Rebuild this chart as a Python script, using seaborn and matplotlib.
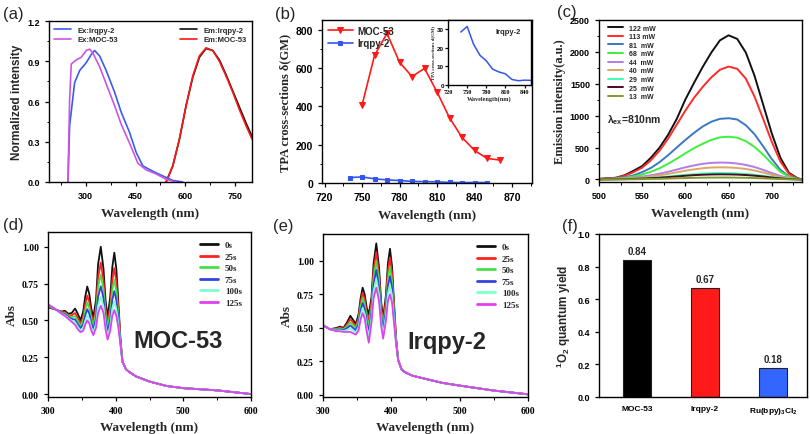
import numpy as np
import pandas as pd
import seaborn as sns
import matplotlib.pyplot as plt
from matplotlib.ticker import MultipleLocator

SANS = "Liberation Sans"
SERIF = "Liberation Serif"

# ---- (a) normalized excitation / emission spectra
ex_wl_irqpy = [247, 252, 267, 282, 302, 317, 327, 342, 362, 387, 407, 432, 452, 472, 502, 532, 562, 592]
ex_irqpy = [0.0, 0.42, 0.74, 0.83, 0.89, 0.95, 0.98, 0.94, 0.83, 0.67, 0.52, 0.37, 0.22, 0.12, 0.08, 0.045, 0.012, 0.0]
ex_wl_moc = [247, 252, 257, 272, 287, 302, 312, 322, 342, 362, 387, 407, 432, 457, 482, 512, 542, 572]
ex_moc = [0.0, 0.62, 0.88, 0.91, 0.93, 0.98, 0.99, 0.96, 0.86, 0.73, 0.57, 0.43, 0.29, 0.14, 0.09, 0.06, 0.02, 0.0]
em_wl = [542, 562, 582, 602, 622, 642, 662, 682, 702, 722, 742, 762, 782, 800]
em_irqpy = [0.0, 0.12, 0.32, 0.57, 0.78, 0.93, 0.995, 0.98, 0.91, 0.80, 0.68, 0.56, 0.44, 0.34]
em_moc = [0.0, 0.12, 0.32, 0.57, 0.79, 0.94, 1.0, 0.98, 0.90, 0.79, 0.67, 0.54, 0.42, 0.32]

# ---- (b) two-photon absorption cross sections
tpa_wl_moc = [750, 760, 770, 780, 790, 800, 810, 820, 830, 840, 850, 860]
tpa_moc = [405, 665, 780, 630, 555, 598, 475, 340, 238, 170, 128, 120]
tpa_wl_irqpy = [740, 750, 760, 770, 780, 790, 800, 810, 820, 830, 840, 850]
tpa_irqpy = [28.5, 31.5, 22, 16, 13, 8.5, 7, 6, 3, 2.3, 2.6, 2.5]

# ---- (c) emission vs. laser power
pow_wl = [500, 510, 520, 530, 540, 550, 560, 570, 580, 590, 600, 610, 620,
          630, 640, 650, 660, 670, 680, 690, 700, 710, 720, 730, 735]
pow_labels = ["122 mW", "113 mW", "81  mW", "68  mW", "44  mW", "40  mW", "29  mW", "25  mW", "13  mW"]
pow_122 = [9, 18, 27, 68, 136, 210, 339, 497, 700, 949, 1254, 1514, 1763, 1989, 2181, 2260, 2204, 1989, 1627, 1175, 723, 339, 102, 18, 0]
pow_113 = [8, 15, 27, 60, 115, 185, 300, 450, 640, 860, 1080, 1280, 1450, 1600, 1720, 1770, 1735, 1580, 1300, 950, 590, 280, 85, 15, 0]
pow_81 = [5, 10, 18, 35, 65, 115, 180, 270, 380, 500, 620, 730, 830, 905, 950, 960, 940, 850, 710, 520, 320, 150, 45, 8, 0]
pow_68 = [4, 8, 14, 27, 48, 78, 120, 175, 245, 325, 410, 490, 560, 620, 660, 670, 655, 600, 510, 390, 250, 120, 40, 8, 0]
pow_44 = [3, 6, 10, 18, 30, 45, 65, 90, 120, 155, 190, 220, 245, 260, 265, 262, 250, 228, 195, 150, 100, 55, 20, 5, 0]
pow_40 = [2, 4, 7, 13, 22, 33, 47, 65, 87, 112, 137, 158, 176, 187, 190, 188, 180, 164, 140, 108, 72, 40, 15, 4, 0]
pow_29 = [1, 2, 4, 7, 11, 17, 25, 34, 46, 59, 72, 83, 92, 98, 100, 99, 95, 86, 74, 57, 38, 21, 8, 2, 0]
pow_25 = [1, 2, 3, 5, 9, 14, 20, 27, 37, 47, 58, 67, 74, 78, 80, 79, 76, 69, 59, 46, 30, 17, 6, 2, 0]
pow_13 = [0, 1, 1, 2, 3, 5, 8, 10, 14, 18, 22, 25, 28, 29, 30, 30, 28, 26, 22, 17, 11, 6, 2, 1, 0]
pow_colors = ["#111111", "#ff2a2a", "#3a78c4", "#3cf03c", "#b57be6", "#d9a866", "#3cffb0", "#4a0a22", "#7f9a2a"]

# ---- (d)/(e) absorption under irradiation
abs_wl = [300, 310, 320, 325, 330, 335, 340, 344, 348, 352, 355, 358, 361, 364, 367, 371, 374,
          378, 382, 385, 388, 392, 395, 398, 401, 404, 407, 410,
          415, 420, 430, 450, 475, 500, 550, 600]
time_labels = ["0s", "25s", "50s", "75s", "100s", "125s"]
time_colors = ["#111111", "#ff2020", "#44e044", "#2f45e0", "#7fffd0", "#e040f0"]
moc_tail = [0.17, 0.15, 0.12, 0.085, 0.055, 0.04, 0.025, 0.0]
moc_0s = [0.59, 0.575, 0.56, 0.565, 0.545, 0.55, 0.58, 0.545, 0.50, 0.56, 0.66, 0.73, 0.68, 0.58, 0.52, 0.64, 0.88,
          1.00, 0.85, 0.64, 0.52, 0.66, 0.86, 0.96, 0.85, 0.62, 0.38, 0.22]
moc_25s = [0.595, 0.576, 0.556, 0.556, 0.536, 0.534, 0.55, 0.517, 0.478, 0.525, 0.609, 0.668, 0.626, 0.54, 0.488, 0.589, 0.791,
           0.892, 0.769, 0.586, 0.48, 0.598, 0.771, 0.855, 0.764, 0.574, 0.369, 0.22]
moc_50s = [0.60, 0.577, 0.553, 0.549, 0.529, 0.522, 0.528, 0.496, 0.462, 0.499, 0.571, 0.622, 0.586, 0.51, 0.464, 0.551, 0.725,
           0.812, 0.709, 0.546, 0.45, 0.552, 0.705, 0.777, 0.70, 0.54, 0.361, 0.22]
moc_75s = [0.603, 0.578, 0.55, 0.542, 0.522, 0.51, 0.506, 0.475, 0.446, 0.473, 0.533, 0.576, 0.546, 0.48, 0.44, 0.513, 0.659,
           0.732, 0.649, 0.506, 0.42, 0.506, 0.639, 0.699, 0.636, 0.506, 0.353, 0.22]
moc_100s = [0.607, 0.579, 0.547, 0.535, 0.515, 0.499, 0.487, 0.456, 0.432, 0.45, 0.498, 0.534, 0.51, 0.452, 0.418, 0.478, 0.60,
            0.66, 0.595, 0.47, 0.392, 0.464, 0.58, 0.628, 0.578, 0.476, 0.346, 0.22]
moc_125s = [0.61, 0.58, 0.545, 0.53, 0.51, 0.49, 0.47, 0.44, 0.42, 0.43, 0.47, 0.50, 0.48, 0.43, 0.40, 0.45, 0.55,
            0.60, 0.55, 0.44, 0.37, 0.43, 0.53, 0.57, 0.53, 0.45, 0.34, 0.22]
irq_tail = [0.19, 0.17, 0.145, 0.12, 0.09, 0.07, 0.033, 0.005]
irq_0s = [0.52, 0.49, 0.50, 0.51, 0.50, 0.54, 0.59, 0.56, 0.53, 0.60, 0.72, 0.80, 0.75, 0.65, 0.60, 0.73, 0.98,
          1.13, 0.95, 0.70, 0.57, 0.74, 0.98, 1.09, 0.96, 0.68, 0.42, 0.26]
irq_25s = [0.52, 0.49, 0.495, 0.503, 0.494, 0.526, 0.566, 0.54, 0.514, 0.576, 0.688, 0.762, 0.714, 0.614, 0.558, 0.692, 0.928,
           1.064, 0.90, 0.664, 0.54, 0.702, 0.924, 1.022, 0.906, 0.65, 0.412, 0.26]
irq_50s = [0.52, 0.49, 0.49, 0.496, 0.488, 0.512, 0.542, 0.52, 0.498, 0.552, 0.656, 0.724, 0.678, 0.578, 0.516, 0.654, 0.876,
           0.998, 0.85, 0.628, 0.51, 0.664, 0.868, 0.954, 0.852, 0.62, 0.404, 0.26]
irq_75s = [0.52, 0.49, 0.485, 0.489, 0.482, 0.498, 0.518, 0.50, 0.482, 0.528, 0.624, 0.686, 0.642, 0.542, 0.474, 0.616, 0.824,
           0.932, 0.80, 0.592, 0.48, 0.626, 0.812, 0.886, 0.798, 0.59, 0.396, 0.26]
irq_100s = [0.52, 0.49, 0.48, 0.482, 0.476, 0.484, 0.494, 0.48, 0.466, 0.504, 0.592, 0.648, 0.606, 0.506, 0.432, 0.578, 0.772,
            0.866, 0.75, 0.556, 0.45, 0.588, 0.756, 0.818, 0.744, 0.56, 0.388, 0.26]
irq_125s = [0.52, 0.49, 0.475, 0.475, 0.47, 0.47, 0.47, 0.46, 0.45, 0.48, 0.56, 0.61, 0.57, 0.47, 0.39, 0.54, 0.72,
            0.80, 0.70, 0.52, 0.42, 0.55, 0.70, 0.75, 0.69, 0.53, 0.38, 0.26]

# ---- (f) singlet oxygen quantum yields
yield_names = ["MOC-53", "Irqpy-2", "Ru(bpy)$_3$Cl$_2$"]
yield_vals = [0.84, 0.67, 0.18]
yield_colors = ["#000000", "#ff1a1a", "#3366ff"]

sns.set_theme(style="ticks")
plt.rcParams["font.family"] = [SANS, "DejaVu Sans"]
plt.rcParams["font.weight"] = "bold"
plt.rcParams["axes.labelweight"] = "bold"
plt.rcParams["axes.linewidth"] = 1.0
plt.rcParams["mathtext.default"] = "regular"
plt.rcParams["axes.edgecolor"] = "black"

fig = plt.figure(figsize=(8.1, 4.35), dpi=100)


def px_axes(l, t, r, b):
    return fig.add_axes([l / 810, 1 - b / 435, (r - l) / 810, (b - t) / 435])


def style(ax, tickfam, direction="out", size=6.5):
    ax.tick_params(which="both", direction=direction, labelsize=size, colors="black",
                   labelfontfamily=tickfam, top=False, right=False)
    ax.tick_params(which="major", length=3, width=0.9)
    ax.tick_params(which="minor", length=1.8, width=0.7)
    for s in ax.spines.values():
        s.set_visible(True)
        s.set_color("black")


def line(ax, x, y, color, label=None, lw=1.2, **kw):
    sns.lineplot(x=x, y=y, ax=ax, color=color, label=label, lw=lw,
                 estimator=None, sort=False, legend=False, **kw)


# ================= (a)
ax = px_axes(49, 22, 252, 183)
line(ax, em_wl, em_irqpy, "#111111", "Em:Irqpy-2")
line(ax, em_wl, em_moc, "#ff1515", "Em:MOC-53")
line(ax, ex_wl_irqpy, ex_irqpy, "#3a5de8", "Ex:Irqpy-2")
line(ax, ex_wl_moc, ex_moc, "#cc55e6", "Ex:MOC-53")
ax.set_ylim(0, 1.2)
ax.set_xticks([300, 450, 600, 750])
ax.xaxis.set_minor_locator(MultipleLocator(75))
ax.yaxis.set_major_locator(MultipleLocator(0.3))
ax.yaxis.set_minor_locator(MultipleLocator(0.15))
ax.set_xlim(190, 800)
ax.yaxis.set_major_formatter(plt.FuncFormatter(lambda v, p: f"{v:.1f}"))
style(ax, SANS)
ax.set_xlabel("Wavelength (nm)", fontfamily=SERIF, fontsize=9.5, labelpad=5)
ax.set_ylabel("Normalized intensity", fontfamily=SANS, fontsize=8.5, labelpad=3)
h, l = ax.get_legend_handles_labels()
leg1 = ax.legend(h[2:], l[2:], loc="upper left", frameon=False, fontsize=5.5,
                 handlelength=2.2, labelspacing=0.3, borderaxespad=0.3)
ax.add_artist(leg1)
ax.legend(h[:2], l[:2], loc="upper right", frameon=False, fontsize=5.5,
          handlelength=2.2, labelspacing=0.3, borderaxespad=0.3)

# ================= (b)
ax = px_axes(322, 21, 532, 184)
line(ax, tpa_wl_moc, tpa_moc, "#ff1a1a", "MOC-53", marker="v", markersize=4.5,
     markeredgecolor="#ff1a1a")
line(ax, tpa_wl_irqpy, tpa_irqpy, "#3355ee", "Irqpy-2", marker="s", markersize=3.2,
     markeredgecolor="#3355ee")
ax.set_ylim(0, 850)
ax.set_xticks([720, 750, 780, 810, 840, 870])
ax.xaxis.set_minor_locator(MultipleLocator(15))
ax.set_yticks([0, 200, 400, 600, 800])
ax.yaxis.set_minor_locator(MultipleLocator(100))
style(ax, SANS, size=7.5)
ax.set_xlim(718, 886)
ax.set_xlabel("Wavelength (nm)", fontfamily=SERIF, fontsize=9.5, labelpad=5)
ax.set_ylabel("TPA cross-sections δ(GM)", fontfamily=SERIF, fontsize=9, labelpad=3)
ax.legend(loc="upper left", frameon=False, fontsize=7, handlelength=2.6,
          labelspacing=0.25, borderaxespad=0.2, handletextpad=0.4)

ins = px_axes(448, 21, 531, 86)
line(ins, tpa_wl_irqpy, tpa_irqpy, "#3355ee", lw=1.1)
ins.set_xlim(720, 850)
ins.set_ylim(0, 35)
ins.set_xticks([720, 750, 780, 810, 840])
ins.set_yticks([0, 10, 20, 30])
style(ins, SANS, size=4.5)
ins.tick_params(which="major", length=2, pad=1)
for lab in ins.get_xticklabels():
    lab.set_fontfamily(SERIF)
ins.set_xlabel("Wavelength(nm)", fontfamily=SERIF, fontsize=4.5, labelpad=1)
ins.set_ylabel("TPA cross-sections d(GM)", fontfamily=SERIF, fontsize=3.5, labelpad=1)
ins.text(0.72, 0.8, "Irqpy-2", transform=ins.transAxes, fontsize=5.5, ha="center")

# ================= (c)
ax = px_axes(599, 21, 802, 183)
pow_series = [pow_122, pow_113, pow_81, pow_68, pow_44, pow_40, pow_29, pow_25, pow_13]
for vals, lab, col in zip(pow_series, pow_labels, pow_colors):
    line(ax, pow_wl, vals, col, lab, lw=1.4)
ax.set_ylim(-40, 2500)
ax.set_xticks([500, 550, 600, 650, 700])
ax.set_yticks([0, 500, 1000, 1500, 2000, 2500])
ax.xaxis.set_minor_locator(MultipleLocator(25))
ax.yaxis.set_minor_locator(MultipleLocator(250))
style(ax, SANS, size=6.5)
ax.set_xlim(500, 735)
ax.set_xlabel("Wavelength (nm)", fontfamily=SERIF, fontsize=9.5, labelpad=5)
ax.set_ylabel("Emission intensity(a.u.)", fontfamily=SERIF, fontsize=9, labelpad=3)
ax.legend(loc="upper left", frameon=False, fontsize=5, handlelength=2.2,
          labelspacing=0.22, borderaxespad=0.3, bbox_to_anchor=(0.02, 1.0))
ax.text(0.04, 0.37, r"$\lambda_{ex}$=810nm", transform=ax.transAxes, fontsize=7.5)

# ================= (d) and (e)
panels = [
    ((48, 233, 251, 398), [moc_0s, moc_25s, moc_50s, moc_75s, moc_100s, moc_125s],
     moc_tail, (-0.02, 1.1), "MOC-53", 0.42),
    ((323, 235, 528, 398), [irq_0s, irq_25s, irq_50s, irq_75s, irq_100s, irq_125s],
     irq_tail, (-0.015, 1.2), "Irqpy-2", 0.41),
]
for box, heads, tail, ylim, name, tx in panels:
    ax = px_axes(*box)
    for head, lab, col in zip(heads, time_labels, time_colors):
        line(ax, abs_wl, head + tail, col, lab, lw=1.3)
    ax.set_ylim(*ylim)
    ax.set_xticks([300, 400, 500, 600])
    ax.set_yticks([0, 0.25, 0.5, 0.75, 1.0])
    ax.xaxis.set_minor_locator(MultipleLocator(50))
    ax.yaxis.set_major_formatter(plt.FuncFormatter(lambda v, p: f"{v:.2f}"))
    style(ax, SERIF, direction="out", size=7)
    ax.set_xlim(300, 600)
    ax.set_xlabel("Wavelength (nm)", fontfamily=SERIF, fontsize=9.5, labelpad=4)
    ax.set_ylabel("Abs", fontfamily=SERIF, fontsize=9.5, labelpad=3)
    leg = ax.legend(loc="upper right", frameon=False, fontsize=6.5, handlelength=2.0,
                    labelspacing=0.35, borderaxespad=0.6)
    for t in leg.get_texts():
        t.set_fontfamily(SERIF)
    for lh in leg.get_lines():
        lh.set_linewidth(2)
    ax.text(tx, 0.30, name, transform=ax.transAxes, fontsize=17, fontfamily=SANS)

# ================= (f)
ax = px_axes(599, 235, 807, 398)
df_yield = pd.DataFrame({"name": yield_names, "val": yield_vals})
sns.barplot(data=df_yield, x="name", y="val", hue="name", palette=yield_colors,
            legend=False, width=0.41, edgecolor="#222222", linewidth=0.8, ax=ax,
            saturation=1)
for i, v in enumerate(yield_vals):
    ax.text(i, v + 0.025, f"{v:.2f}", ha="center", va="bottom", fontsize=7)
ax.set_xlim(-0.56, 2.5)
ax.set_ylim(0, 1.0)
ax.set_yticks([0, 0.2, 0.4, 0.6, 0.8, 1.0])
ax.yaxis.set_major_formatter(plt.FuncFormatter(lambda v, p: f"{v:.1f}"))
style(ax, SANS, size=6.5)
ax.tick_params(axis="x", length=0, pad=6, labelsize=6)
ax.set_xlabel("")
ax.set_ylabel("$^1$O$_2$ quantum yield", fontfamily=SANS, fontsize=8.5, labelpad=3)

# panel letters
for lab, x, y in [("(a)", 3, 14), ("(b)", 275, 14), ("(c)", 557, 12),
                  ("(d)", 3, 226), ("(e)", 273, 227), ("(f)", 562, 227)]:
    fig.text(x / 810, 1 - y / 435, lab, fontsize=12, fontweight="normal",
             fontfamily=SANS, va="center", ha="left")

fig.savefig("out.png", dpi=100)
